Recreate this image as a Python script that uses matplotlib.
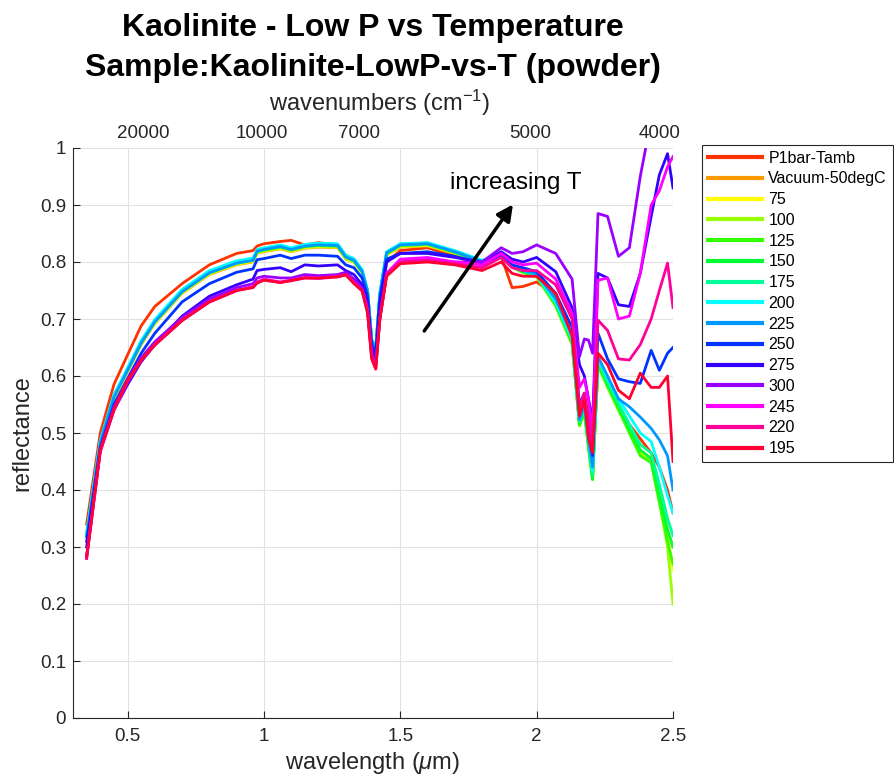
import matplotlib
matplotlib.use("Agg")
import matplotlib.pyplot as plt
import numpy as np

plt.rcParams['font.family'] = ['Liberation Sans', 'DejaVu Sans']
plt.rcParams['mathtext.fontset'] = 'custom'
plt.rcParams['mathtext.rm'] = 'Liberation Sans'
plt.rcParams['mathtext.it'] = 'Liberation Sans:italic'
plt.rcParams['mathtext.bf'] = 'Liberation Sans:bold'

# wavelength knots (um), shared by every spectrum
wl = [0.35, 0.40, 0.45, 0.50, 0.55, 0.60, 0.70, 0.80, 0.90, 0.96,
      0.975, 1.00, 1.06, 1.10, 1.15, 1.20, 1.27, 1.30, 1.33, 1.36,
      1.38, 1.395, 1.41, 1.425, 1.45, 1.50, 1.60, 1.70, 1.80, 1.87,
      1.91, 1.95, 2.00, 2.07, 2.13, 2.157, 2.175, 2.19, 2.205, 2.225,
      2.26, 2.30, 2.34, 2.38, 2.42, 2.45, 2.48, 2.50]

r_p1bar = [0.34, 0.50, 0.585, 0.637, 0.688, 0.722, 0.762, 0.795, 0.815, 0.82,
           0.828, 0.832, 0.836, 0.838, 0.830, 0.834, 0.830, 0.812, 0.805, 0.783,
           0.75, 0.665, 0.635, 0.72, 0.80, 0.82, 0.825, 0.81, 0.795, 0.81,
           0.755, 0.757, 0.765, 0.74, 0.67, 0.515, 0.54, 0.485, 0.43, 0.62,
           0.585, 0.55, 0.515, 0.49, 0.465, 0.44, 0.40, 0.36]
r_vac50 = [0.32, 0.48, 0.56, 0.607, 0.655, 0.692, 0.745, 0.778, 0.795, 0.80,
           0.815, 0.818, 0.823, 0.818, 0.824, 0.826, 0.825, 0.805, 0.80, 0.78,
           0.745, 0.66, 0.645, 0.74, 0.812, 0.826, 0.828, 0.815, 0.798, 0.81,
           0.792, 0.782, 0.775, 0.725, 0.66, 0.517, 0.54, 0.48, 0.425, 0.622,
           0.585, 0.545, 0.51, 0.47, 0.455, 0.40, 0.33, 0.30]
r_75 = [0.32, 0.481, 0.561, 0.608, 0.656, 0.693, 0.746, 0.779, 0.796, 0.801,
        0.816, 0.819, 0.824, 0.819, 0.825, 0.827, 0.826, 0.806, 0.80, 0.781,
        0.745, 0.66, 0.645, 0.74, 0.813, 0.827, 0.829, 0.816, 0.799, 0.81,
        0.792, 0.782, 0.776, 0.726, 0.66, 0.515, 0.538, 0.478, 0.423, 0.62,
        0.583, 0.543, 0.507, 0.468, 0.452, 0.395, 0.32, 0.26]
r_100 = [0.32, 0.482, 0.562, 0.609, 0.657, 0.694, 0.747, 0.78, 0.797, 0.802,
         0.817, 0.82, 0.825, 0.82, 0.826, 0.828, 0.827, 0.807, 0.801, 0.782,
         0.746, 0.66, 0.645, 0.741, 0.814, 0.828, 0.83, 0.816, 0.799, 0.81,
         0.791, 0.781, 0.774, 0.722, 0.655, 0.512, 0.535, 0.475, 0.42, 0.618,
         0.58, 0.54, 0.503, 0.462, 0.45, 0.38, 0.30, 0.20]
r_125 = [0.322, 0.483, 0.563, 0.61, 0.658, 0.695, 0.748, 0.781, 0.798, 0.803,
         0.818, 0.821, 0.826, 0.821, 0.827, 0.829, 0.828, 0.808, 0.802, 0.783,
         0.747, 0.661, 0.646, 0.742, 0.815, 0.829, 0.831, 0.817, 0.80, 0.811,
         0.792, 0.782, 0.775, 0.724, 0.657, 0.514, 0.537, 0.474, 0.418, 0.62,
         0.582, 0.542, 0.50, 0.46, 0.448, 0.378, 0.31, 0.27]
r_150 = [0.322, 0.484, 0.564, 0.611, 0.659, 0.696, 0.749, 0.782, 0.799, 0.804,
         0.819, 0.822, 0.827, 0.822, 0.828, 0.83, 0.829, 0.809, 0.803, 0.784,
         0.748, 0.662, 0.647, 0.743, 0.816, 0.83, 0.832, 0.818, 0.801, 0.812,
         0.793, 0.783, 0.776, 0.726, 0.66, 0.516, 0.54, 0.478, 0.42, 0.624,
         0.586, 0.547, 0.508, 0.47, 0.455, 0.39, 0.33, 0.30]
r_175 = [0.323, 0.485, 0.565, 0.612, 0.66, 0.697, 0.75, 0.783, 0.80, 0.805,
         0.82, 0.823, 0.828, 0.823, 0.829, 0.831, 0.83, 0.81, 0.804, 0.785,
         0.749, 0.663, 0.648, 0.744, 0.817, 0.831, 0.833, 0.819, 0.802, 0.813,
         0.794, 0.784, 0.777, 0.728, 0.663, 0.52, 0.545, 0.483, 0.428, 0.628,
         0.59, 0.552, 0.515, 0.48, 0.465, 0.41, 0.35, 0.32]
r_200 = [0.324, 0.487, 0.567, 0.614, 0.662, 0.699, 0.752, 0.785, 0.802, 0.807,
         0.822, 0.825, 0.83, 0.825, 0.831, 0.833, 0.832, 0.812, 0.806, 0.787,
         0.75, 0.664, 0.649, 0.745, 0.818, 0.832, 0.834, 0.82, 0.803, 0.814,
         0.795, 0.785, 0.778, 0.73, 0.666, 0.525, 0.55, 0.488, 0.435, 0.632,
         0.597, 0.56, 0.53, 0.50, 0.485, 0.44, 0.39, 0.36]
r_225 = [0.318, 0.483, 0.563, 0.61, 0.658, 0.695, 0.748, 0.781, 0.798, 0.803,
         0.819, 0.822, 0.827, 0.822, 0.828, 0.83, 0.829, 0.809, 0.803, 0.784,
         0.748, 0.662, 0.647, 0.743, 0.816, 0.83, 0.832, 0.818, 0.801, 0.812,
         0.794, 0.785, 0.779, 0.735, 0.672, 0.523, 0.55, 0.49, 0.44, 0.634,
         0.60, 0.56, 0.546, 0.528, 0.508, 0.488, 0.46, 0.40]
r_250 = [0.31, 0.475, 0.55, 0.595, 0.64, 0.675, 0.73, 0.762, 0.782, 0.788,
         0.804, 0.806, 0.812, 0.806, 0.812, 0.812, 0.81, 0.795, 0.79, 0.772,
         0.74, 0.655, 0.64, 0.735, 0.805, 0.815, 0.818, 0.81, 0.798, 0.81,
         0.795, 0.79, 0.783, 0.745, 0.685, 0.55, 0.57, 0.51, 0.46, 0.675,
         0.63, 0.595, 0.59, 0.587, 0.645, 0.61, 0.64, 0.65]
r_275 = [0.30, 0.47, 0.54, 0.585, 0.625, 0.655, 0.705, 0.74, 0.76, 0.77,
         0.785, 0.787, 0.79, 0.783, 0.795, 0.793, 0.795, 0.785, 0.778, 0.76,
         0.73, 0.65, 0.63, 0.725, 0.80, 0.815, 0.815, 0.808, 0.80, 0.818,
         0.805, 0.80, 0.808, 0.783, 0.72, 0.62, 0.60, 0.56, 0.52, 0.78,
         0.772, 0.725, 0.722, 0.78, 0.88, 0.953, 0.99, 0.93]
r_300 = [0.285, 0.472, 0.545, 0.595, 0.632, 0.66, 0.703, 0.735, 0.755, 0.762,
         0.772, 0.775, 0.772, 0.772, 0.778, 0.776, 0.778, 0.782, 0.77, 0.755,
         0.72, 0.64, 0.62, 0.70, 0.78, 0.80, 0.805, 0.80, 0.80, 0.825,
         0.815, 0.818, 0.83, 0.815, 0.77, 0.634, 0.665, 0.663, 0.64, 0.885,
         0.88, 0.81, 0.825, 0.95, 1.05, 1.08, 1.10, 1.10]
r_245 = [0.28, 0.468, 0.54, 0.59, 0.628, 0.655, 0.698, 0.73, 0.75, 0.757,
         0.765, 0.77, 0.765, 0.768, 0.773, 0.772, 0.775, 0.778, 0.765, 0.75,
         0.715, 0.635, 0.615, 0.70, 0.78, 0.805, 0.808, 0.80, 0.795, 0.815,
         0.80, 0.795, 0.798, 0.77, 0.71, 0.58, 0.595, 0.56, 0.50, 0.768,
         0.772, 0.70, 0.705, 0.78, 0.90, 0.925, 0.967, 0.985]
r_220 = [0.28, 0.467, 0.54, 0.59, 0.627, 0.654, 0.697, 0.73, 0.75, 0.756,
         0.764, 0.769, 0.764, 0.767, 0.772, 0.771, 0.774, 0.777, 0.764, 0.749,
         0.713, 0.633, 0.613, 0.70, 0.778, 0.80, 0.803, 0.797, 0.79, 0.808,
         0.79, 0.785, 0.785, 0.76, 0.70, 0.546, 0.57, 0.53, 0.47, 0.698,
         0.68, 0.63, 0.628, 0.655, 0.70, 0.75, 0.798, 0.72]
r_195 = [0.283, 0.47, 0.542, 0.592, 0.628, 0.655, 0.698, 0.73, 0.75, 0.755,
         0.763, 0.768, 0.764, 0.768, 0.772, 0.772, 0.774, 0.778, 0.762, 0.75,
         0.71, 0.63, 0.612, 0.70, 0.775, 0.797, 0.80, 0.795, 0.785, 0.80,
         0.78, 0.775, 0.775, 0.745, 0.67, 0.53, 0.558, 0.49, 0.465, 0.64,
         0.62, 0.575, 0.56, 0.605, 0.58, 0.58, 0.60, 0.45]

names = ['P1bar-Tamb', 'Vacuum-50degC', '75', '100', '125', '150', '175', '200',
         '225', '250', '275', '300', '245', '220', '195']
colors = ['#ff3300', '#ff9900', '#ffff00', '#99ff00', '#33ff00', '#00ff33', '#00ff99',
          '#00ffff', '#0099ff', '#0033ff', '#3300ff', '#9900ff', '#ff00ff', '#ff0099', '#ff0033']
spectra = [r_p1bar, r_vac50, r_75, r_100, r_125, r_150, r_175, r_200,
           r_225, r_250, r_275, r_300, r_245, r_220, r_195]

top_pos = [0.558, 0.992, 1.348, 1.978, 2.450]
top_labels = ['20000', '10000', '7000', '5000', '4000']

fig = plt.figure(figsize=(8.94, 7.76), dpi=100)
ax = fig.add_axes([73 / 894, 58 / 776, 600 / 894, 570 / 776])

for r, c, n in zip(spectra, colors, names):
    ax.plot(wl, r, color=c, lw=2.0, label=n)

ax.set_xlim(0.3, 2.5)
ax.set_ylim(0, 1)
ax.set_xticks([0.5, 1, 1.5, 2, 2.5])
ax.set_xticklabels(['0.5', '1', '1.5', '2', '2.5'])
ax.set_yticks(np.arange(0, 11) / 10)
ax.set_yticklabels(['0', '0.1', '0.2', '0.3', '0.4', '0.5', '0.6', '0.7', '0.8', '0.9', '1'])
ax.grid(True, color='#e2e2e2', lw=0.8)
ax.set_axisbelow(True)
for s in ['top', 'right']:
    ax.spines[s].set_visible(False)
for s in ['left', 'bottom']:
    ax.spines[s].set_color('#262626')
    ax.spines[s].set_linewidth(0.8)
ax.tick_params(direction='in', length=5, colors='#262626', labelsize=13.5)
ax.tick_params(axis='x', pad=7)
ax.tick_params(axis='y', pad=5)

ax.set_xlabel('wavelength ($\\mu$m)', fontsize=17, color='#262626', va='center')
ax.xaxis.set_label_coords(0.5, (718 - 763) / 570)
ax.set_ylabel('reflectance', fontsize=17, color='#262626', va='center')
ax.yaxis.set_label_coords((22 - 73) / 600, 0.5)

top = ax.twiny()
top.set_xlim(ax.get_xlim())
top.set_xticks(top_pos)
top.set_xticklabels(top_labels)
top.tick_params(length=0, labelsize=13.5, colors='#262626', pad=4)
for s in top.spines.values():
    s.set_visible(False)

ax.annotate('', xy=(1.919, 0.905), xytext=(1.582, 0.675),
            arrowprops=dict(arrowstyle='-|>', lw=2.5, color='black', mutation_scale=24))
ax.text(1.681, 0.939, 'increasing T', fontsize=17.5, va='center', ha='left')

fig.text(380 / 894, 1 - 103 / 776, 'wavenumbers (cm$^{-1}$)', fontsize=17,
         ha='center', va='center', color='#262626')
fig.text(373 / 894, 1 - 28 / 776, 'Kaolinite - Low P vs Temperature', fontsize=23,
         weight='bold', ha='center', va='center')
fig.text(373 / 894, 1 - 68 / 776, 'Sample:Kaolinite-LowP-vs-T (powder)', fontsize=23,
         weight='bold', ha='center', va='center')

leg = ax.legend(loc='upper left', bbox_to_anchor=(702 / 894, 1 - 145 / 776),
                bbox_transform=fig.transFigure, borderaxespad=0, fontsize=11.5,
                handlelength=3.4, handletextpad=0.4, labelspacing=0.36,
                borderpad=0.35, fancybox=False, framealpha=1, edgecolor='#262626')
leg.get_frame().set_linewidth(0.8)
for ln in leg.get_lines():
    ln.set_linewidth(3)

fig.savefig('out.png', dpi=100)
